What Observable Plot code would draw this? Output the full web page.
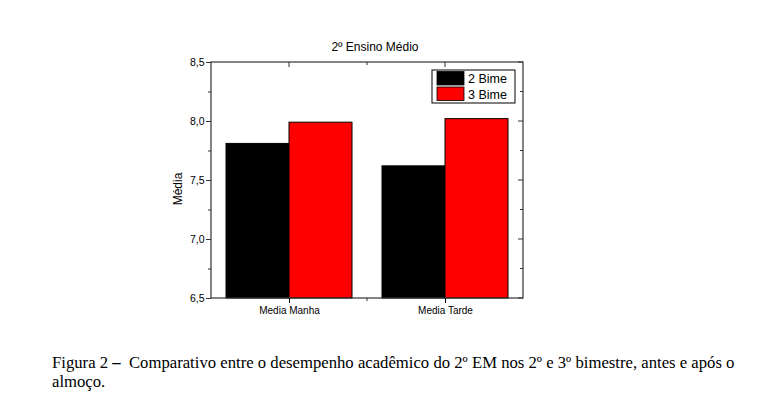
<!DOCTYPE html>
<html><head><meta charset="utf-8">
<script src="https://cdn.jsdelivr.net/npm/d3@7"></script>
<script src="https://cdn.jsdelivr.net/npm/@observablehq/plot@0.6"></script>
<style>
body{margin:0;background:#fff;width:765px;height:412px;overflow:hidden;position:relative;font-family:"Liberation Sans",Arial,sans-serif}
#chart{position:absolute;left:0;top:0}
#caption{position:absolute;left:52px;top:353px;font-family:"Liberation Serif","Times New Roman",serif;font-size:16.7px;line-height:19px;color:#000;white-space:nowrap}
</style></head><body>
<div id="chart"></div>
<div id="caption">Figura 2 <b>–</b>&nbsp; Comparativo entre o desempenho acadêmico do 2º EM nos 2º e 3º bimestre, antes e após o<br>almoço.</div>
<script>
const title = "2º Ensino Médio";
const yLabel = "Média";
const categories = ["Media Manha", "Media Tarde"];
const series = ["2 Bime", "3 Bime"];
const bime2 = [7.81, 7.62];
const bime3 = [7.99, 8.02];
const yDomain = [6.5, 8.5];
const yTicks = [6.5, 7.0, 7.5, 8.0, 8.5];
const yMinorTicks = [6.75, 7.25, 7.75, 8.25];
const colors = ["#000000", "#ff0000"];

const table = categories.flatMap((c, i) => [
  {category: c, series: series[0], value: bime2[i]},
  {category: c, series: series[1], value: bime3[i]}
]);

const W = 765, H = 340, ML = 210, MR = 242, MT = 62, MB = 42;
const fmt = d => d.toFixed(1).replace(".", ",");

const plot = Plot.plot({
  width: W, height: H,
  marginLeft: ML, marginRight: MR, marginTop: MT, marginBottom: MB,
  style: {fontFamily: "Liberation Sans, Arial, sans-serif", fontSize: "10px", background: "white", color: "black"},
  facet: {data: table, x: "category"},
  fx: {domain: categories, paddingInner: 0, paddingOuter: 0, label: null, axis: "bottom", tickSize: 5, tickPadding: 3},
  x: {domain: series, paddingInner: 0, paddingOuter: 0.235, axis: null},
  y: {domain: yDomain, label: null},
  color: {domain: series, range: colors},
  marks: [
    Plot.barY(table, {x: "series", y1: yDomain[0], y2: "value", fill: "series", stroke: "black", strokeWidth: 1}),
    Plot.axisY(yTicks, {facet: false, tickSize: 5, tickPadding: 2, tickFormat: fmt, label: null, stroke: "#333", fontSize: 10.5}),
    Plot.axisY(yMinorTicks, {facet: false, tickSize: 3, tickFormat: () => "", label: null, stroke: "#333"})
  ]
});
document.getElementById("chart").appendChild(plot);

const svg = d3.select(plot);
let fx = null;
const ys = plot.scale("y"), color = plot.scale("color");
try { fx = plot.scale("fx"); } catch (e) { fx = null; }
const fLeft = fx && fx.apply ? fx.apply(categories[0]) : ML;
const bw = fx && fx.bandwidth ? fx.bandwidth : (W - ML - MR) / categories.length;
const fRight = fLeft + bw * categories.length;
const fTop = ys.apply(yDomain[1]), fBottom = ys.apply(yDomain[0]);
const g = svg.append("g").attr("stroke", "#333").attr("fill", "none");
g.append("rect").attr("x", fLeft).attr("y", fTop).attr("width", fRight - fLeft).attr("height", fBottom - fTop).attr("stroke-width", 1.2);
yTicks.forEach(t => g.append("line").attr("x1", fRight).attr("x2", fRight - 5).attr("y1", ys.apply(t)).attr("y2", ys.apply(t)));
yMinorTicks.forEach(t => g.append("line").attr("x1", fRight).attr("x2", fRight - 3).attr("y1", ys.apply(t)).attr("y2", ys.apply(t)));
categories.forEach((c, i) => {
  const cx = fLeft + bw * i + bw / 2;
  g.append("line").attr("x1", cx).attr("x2", cx).attr("y1", fTop).attr("y2", fTop + 5);
  if (i > 0) {
    const bx = fLeft + bw * i;
    g.append("line").attr("x1", bx).attr("x2", bx).attr("y1", fTop).attr("y2", fTop + 3);
    g.append("line").attr("x1", bx).attr("x2", bx).attr("y1", fBottom).attr("y2", fBottom + 3);
  }
});
svg.append("text").attr("x", (fLeft + fRight) / 2 + 8).attr("y", 51).attr("text-anchor", "middle")
  .attr("font-size", 12).attr("fill", "black").text(title);
svg.append("text").attr("transform", `translate(${fLeft - 29.5},${(fTop + fBottom) / 2 + 9}) rotate(-90)`)
  .attr("text-anchor", "middle").attr("font-size", 12).attr("fill", "black").text(yLabel);
const lw = 83, lh = 33, lx = fRight - 8 - lw, ly = fTop + 8;
const lg = svg.append("g").attr("text-anchor", "start");
lg.append("rect").attr("x", lx).attr("y", ly).attr("width", lw).attr("height", lh).attr("fill", "white").attr("stroke", "black");
color.domain.forEach((s, i) => {
  const sy = ly + 1.5 + i * 15.5;
  lg.append("rect").attr("x", lx + 5).attr("y", sy).attr("width", 27).attr("height", 13.5)
    .attr("fill", color.apply(s)).attr("stroke", "black").attr("stroke-width", 0.8);
  lg.append("text").attr("x", lx + 36).attr("y", sy + 11.5).attr("text-anchor", "start").attr("font-size", 12.5).attr("fill", "black").text(s);
});
</script>
</body></html>
